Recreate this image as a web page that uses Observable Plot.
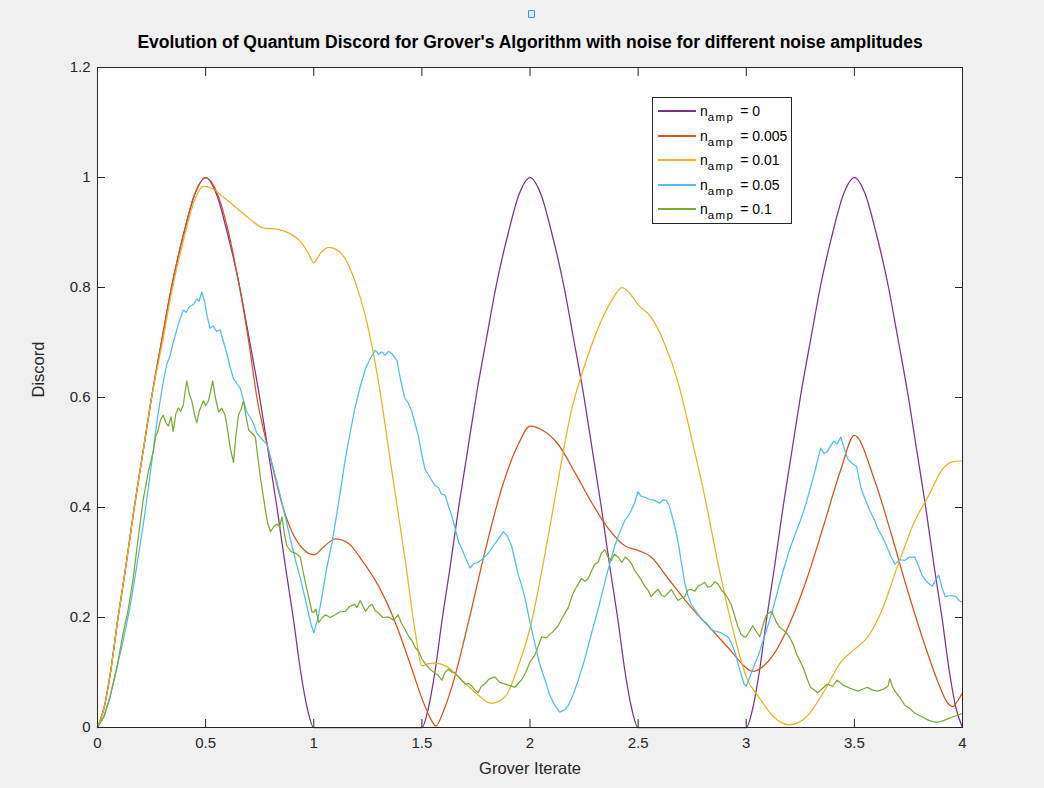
<!DOCTYPE html>
<html>
<head>
<meta charset="utf-8">
<script src="https://cdn.jsdelivr.net/npm/d3@7"></script>
<script src="https://cdn.jsdelivr.net/npm/@observablehq/plot@0.6"></script>
<style>
  html, body { margin: 0; padding: 0; background: #f0f0f0; }
  #wrap { position: relative; width: 1044px; height: 788px; overflow: hidden; font-family: "Liberation Sans", Arial, Helvetica, sans-serif; }
  #chart { position: absolute; left: 0; top: 0; }
  #legend { position: absolute; left: 652px; top: 97px; width: 140px; height: 127px; background: #fff; border: 1px solid #262626; box-sizing: border-box; }
  .row { position: absolute; left: 0; height: 20px; display: flex; align-items: center; }
  .swatch { width: 38px; height: 2px; margin-left: 5px; margin-right: 4px; }
  .lbl { font-size: 14px; color: #000; white-space: nowrap; }
  .lbl sub { font-size: 11.5px; letter-spacing: 1.4px; vertical-align: -5px; line-height: 0; margin-right: 2px; }
  #marker { position: absolute; left: 528px; top: 10px; width: 5px; height: 6px; border: 1px solid #3d8fe0; background: #dcecfb; border-radius: 1px; }
</style>
</head>
<body>
<div id="wrap"><div id="chart"></div><div id="legend"></div><div id="marker"></div></div>
<script>
const titleText = "Evolution of Quantum Discord for Grover's Algorithm with noise for different noise amplitudes";
const xLabel = "Grover Iterate";
const yLabel = "Discord";
const xTicks = [0, 0.5, 1, 1.5, 2, 2.5, 3, 3.5, 4];
const xTickLabels = ["0", "0.5", "1", "1.5", "2", "2.5", "3", "3.5", "4"];
const yTicks = [0, 0.2, 0.4, 0.6, 0.8, 1, 1.2];
const yTickLabels = ["0", "0.2", "0.4", "0.6", "0.8", "1", "1.2"];
const seriesLabels = ["0", "0.005", "0.01", "0.05", "0.1"];
const seriesColors = ["#7E2F8E", "#D95319", "#EDB120", "#4DBEEE", "#77AC30"];

// n_amp = 0
const namp0 = [[0,0],[0.03,0.035],[0.06,0.1],[0.095,0.2],[0.13,0.29],[0.17,0.4],[0.21,0.5],[0.25,0.6],[0.3,0.71],[0.342,0.8],[0.4,0.9],[0.45,0.97],[0.5,1.0],[0.55,0.97],[0.6,0.9],[0.658,0.8],[0.7,0.71],[0.75,0.6],[0.79,0.5],[0.83,0.4],[0.87,0.29],[0.905,0.2],[0.94,0.1],[0.97,0.035],[1.0,0],
  [1.5,0],[1.53,0.035],[1.56,0.1],[1.595,0.2],[1.63,0.29],[1.67,0.4],[1.71,0.5],[1.75,0.6],[1.8,0.71],[1.842,0.8],[1.9,0.9],[1.95,0.97],[2.0,1.0],[2.05,0.97],[2.1,0.9],[2.158,0.8],[2.2,0.71],[2.25,0.6],[2.29,0.5],[2.33,0.4],[2.37,0.29],[2.405,0.2],[2.44,0.1],[2.47,0.035],[2.5,0],
  [3.0,0],[3.03,0.035],[3.06,0.1],[3.095,0.2],[3.13,0.29],[3.17,0.4],[3.21,0.5],[3.25,0.6],[3.3,0.71],[3.342,0.8],[3.4,0.9],[3.45,0.97],[3.5,1.0],[3.55,0.97],[3.6,0.9],[3.658,0.8],[3.7,0.71],[3.75,0.6],[3.79,0.5],[3.83,0.4],[3.87,0.29],[3.905,0.2],[3.94,0.1],[3.97,0.035],[4.0,0]];

// n_amp = 0.005
const namp005 = [[0,0],[0.03,0.035],[0.06,0.1],[0.095,0.2],[0.13,0.29],[0.17,0.4],[0.21,0.5],[0.25,0.6],[0.3,0.71],[0.342,0.8],[0.4,0.9],[0.45,0.97],[0.5,1.0],[0.55,0.975],[0.6,0.91],[0.657,0.8],[0.7,0.7],[0.737,0.6],[0.8,0.49],[0.858,0.4],[0.9,0.355],[0.95,0.325],[1.0,0.314],[1.05,0.33],[1.1,0.343],[1.16,0.335],[1.223,0.304],[1.3,0.257],[1.377,0.191],[1.454,0.106],[1.5,0.053],[1.535,0.02],[1.565,0.003],[1.6,0.03],[1.638,0.073],[1.715,0.191],[1.79,0.317],[1.87,0.436],[1.946,0.515],[2.0,0.548],[2.06,0.54],[2.13,0.515],[2.21,0.462],[2.285,0.409],[2.36,0.363],[2.44,0.33],[2.5,0.322],[2.56,0.31],[2.64,0.27],[2.746,0.218],[2.84,0.178],[2.93,0.139],[2.99,0.112],[3.03,0.102],[3.08,0.112],[3.125,0.132],[3.203,0.191],[3.28,0.27],[3.36,0.37],[3.4375,0.469],[3.5,0.531],[3.594,0.449],[3.672,0.35],[3.75,0.244],[3.83,0.145],[3.89,0.079],[3.93,0.045],[3.955,0.038],[3.98,0.05],[4.0,0.063]];

// n_amp = 0.01
const namp01 = [[0,0],[0.03,0.035],[0.06,0.1],[0.095,0.2],[0.13,0.29],[0.17,0.4],[0.21,0.5],[0.25,0.6],[0.3,0.7],[0.342,0.79],[0.4,0.89],[0.45,0.96],[0.49,0.984],[0.53,0.98],[0.583,0.964],[0.645,0.944],[0.706,0.924],[0.768,0.908],[0.83,0.906],[0.89,0.898],[0.938,0.884],[0.977,0.861],[1.0,0.845],[1.03,0.862],[1.07,0.873],[1.11,0.868],[1.146,0.852],[1.19,0.812],[1.24,0.746],[1.3,0.627],[1.36,0.469],[1.423,0.304],[1.47,0.172],[1.5,0.112],[1.53,0.116],[1.56,0.117],[1.61,0.112],[1.685,0.086],[1.76,0.059],[1.82,0.044],[1.885,0.056],[1.946,0.112],[2.0,0.18],[2.07,0.317],[2.13,0.449],[2.19,0.574],[2.254,0.66],[2.315,0.726],[2.377,0.776],[2.426,0.8],[2.46,0.79],[2.5,0.769],[2.56,0.746],[2.62,0.7],[2.685,0.627],[2.746,0.528],[2.81,0.416],[2.87,0.297],[2.93,0.191],[2.97,0.13],[3.0,0.092],[3.0625,0.053],[3.125,0.02],[3.2,0.005],[3.28,0.02],[3.36,0.066],[3.4375,0.119],[3.5,0.142],[3.5625,0.165],[3.625,0.211],[3.703,0.297],[3.78,0.376],[3.844,0.422],[3.906,0.469],[3.953,0.483],[4.0,0.485]];

// n_amp = 0.05
const namp05 = [[0,0],[0.03,0.02],[0.06,0.06],[0.088,0.106],[0.12,0.16],[0.15,0.218],[0.18,0.29],[0.212,0.37],[0.24,0.45],[0.274,0.554],[0.3,0.62],[0.32,0.66],[0.335,0.675],[0.35,0.7],[0.375,0.735],[0.397,0.759],[0.41,0.755],[0.425,0.765],[0.444,0.769],[0.459,0.779],[0.47,0.775],[0.482,0.792],[0.495,0.775],[0.505,0.752],[0.52,0.726],[0.535,0.73],[0.55,0.72],[0.567,0.723],[0.58,0.705],[0.598,0.68],[0.61,0.66],[0.629,0.634],[0.645,0.625],[0.66,0.617],[0.675,0.595],[0.69,0.574],[0.705,0.565],[0.72,0.554],[0.737,0.535],[0.753,0.528],[0.77,0.52],[0.784,0.515],[0.8,0.49],[0.815,0.469],[0.83,0.445],[0.845,0.422],[0.87,0.38],[0.892,0.343],[0.915,0.305],[0.938,0.271],[0.96,0.235],[0.985,0.191],[1.0,0.172],[1.02,0.2],[1.038,0.238],[1.06,0.29],[1.085,0.337],[1.115,0.409],[1.146,0.488],[1.17,0.54],[1.19,0.58],[1.215,0.62],[1.24,0.653],[1.26,0.67],[1.285,0.686],[1.3,0.678],[1.315,0.683],[1.33,0.677],[1.345,0.684],[1.36,0.68],[1.385,0.667],[1.4,0.635],[1.42,0.6],[1.437,0.59],[1.454,0.574],[1.47,0.55],[1.485,0.528],[1.5,0.495],[1.515,0.469],[1.53,0.46],[1.546,0.449],[1.56,0.44],[1.577,0.436],[1.59,0.425],[1.608,0.422],[1.625,0.4],[1.64,0.383],[1.655,0.36],[1.67,0.337],[1.685,0.325],[1.7,0.31],[1.723,0.29],[1.74,0.298],[1.76,0.3],[1.785,0.308],[1.808,0.317],[1.83,0.33],[1.854,0.343],[1.877,0.356],[1.895,0.348],[1.915,0.33],[1.93,0.305],[1.946,0.277],[1.96,0.26],[1.977,0.235],[2.0,0.191],[2.023,0.152],[2.045,0.115],[2.07,0.086],[2.09,0.06],[2.115,0.04],[2.138,0.028],[2.16,0.032],[2.177,0.04],[2.2,0.06],[2.223,0.086],[2.25,0.12],[2.285,0.172],[2.315,0.215],[2.346,0.264],[2.37,0.3],[2.392,0.33],[2.415,0.355],[2.438,0.376],[2.455,0.385],[2.47,0.396],[2.485,0.41],[2.5,0.429],[2.515,0.42],[2.53,0.419],[2.55,0.415],[2.577,0.413],[2.6,0.408],[2.615,0.414],[2.63,0.413],[2.642,0.405],[2.654,0.389],[2.67,0.365],[2.685,0.337],[2.7,0.3],[2.715,0.264],[2.73,0.24],[2.746,0.224],[2.77,0.21],[2.79,0.198],[2.815,0.19],[2.838,0.178],[2.86,0.175],[2.885,0.172],[2.9,0.168],[2.915,0.165],[2.93,0.155],[2.946,0.139],[2.97,0.105],[2.99,0.079],[3.0,0.075],[3.015,0.09],[3.03,0.106],[3.055,0.13],[3.078,0.158],[3.1,0.185],[3.125,0.218],[3.15,0.255],[3.17,0.284],[3.2,0.323],[3.225,0.35],[3.25,0.376],[3.275,0.405],[3.297,0.436],[3.32,0.47],[3.344,0.508],[3.36,0.498],[3.375,0.502],[3.39,0.512],[3.406,0.521],[3.42,0.515],[3.4375,0.528],[3.455,0.505],[3.47,0.488],[3.49,0.48],[3.51,0.475],[3.53,0.436],[3.55,0.415],[3.57,0.396],[3.594,0.376],[3.61,0.36],[3.625,0.35],[3.64,0.338],[3.656,0.323],[3.67,0.31],[3.6875,0.297],[3.71,0.305],[3.734,0.304],[3.755,0.31],[3.78,0.31],[3.795,0.295],[3.8125,0.277],[3.835,0.265],[3.86,0.257],[3.875,0.268],[3.89,0.277],[3.905,0.255],[3.92,0.238],[3.945,0.24],[3.97,0.238],[3.985,0.23],[4.0,0.228]];

// n_amp = 0.1
const namp1 = [[0,0],[0.03,0.02],[0.057,0.053],[0.09,0.11],[0.119,0.172],[0.14,0.21],[0.165,0.271],[0.19,0.35],[0.212,0.416],[0.235,0.465],[0.258,0.502],[0.27,0.53],[0.281,0.541],[0.292,0.56],[0.304,0.568],[0.315,0.555],[0.328,0.548],[0.34,0.565],[0.35,0.538],[0.362,0.57],[0.374,0.581],[0.385,0.575],[0.397,0.587],[0.405,0.61],[0.413,0.63],[0.425,0.605],[0.436,0.594],[0.448,0.57],[0.459,0.554],[0.47,0.575],[0.49,0.594],[0.5,0.585],[0.513,0.594],[0.522,0.61],[0.533,0.63],[0.545,0.6],[0.56,0.574],[0.575,0.58],[0.59,0.568],[0.6,0.545],[0.614,0.508],[0.629,0.482],[0.64,0.53],[0.652,0.568],[0.665,0.58],[0.675,0.594],[0.687,0.565],[0.699,0.541],[0.715,0.535],[0.73,0.528],[0.742,0.49],[0.753,0.455],[0.765,0.425],[0.776,0.396],[0.788,0.37],[0.8,0.356],[0.815,0.365],[0.83,0.37],[0.842,0.365],[0.853,0.383],[0.865,0.35],[0.876,0.33],[0.895,0.32],[0.915,0.317],[0.938,0.31],[0.95,0.285],[0.961,0.264],[0.975,0.24],[0.992,0.21],[1.0,0.21],[1.01,0.215],[1.023,0.191],[1.04,0.2],[1.054,0.205],[1.075,0.2],[1.1,0.205],[1.12,0.21],[1.146,0.211],[1.165,0.22],[1.19,0.224],[1.2,0.218],[1.215,0.231],[1.228,0.22],[1.24,0.211],[1.255,0.22],[1.27,0.224],[1.285,0.212],[1.3,0.208],[1.32,0.2],[1.346,0.201],[1.37,0.195],[1.39,0.205],[1.405,0.19],[1.423,0.178],[1.44,0.165],[1.454,0.158],[1.47,0.145],[1.485,0.139],[1.5,0.125],[1.515,0.116],[1.54,0.105],[1.56,0.099],[1.575,0.095],[1.592,0.086],[1.607,0.1],[1.623,0.106],[1.64,0.1],[1.654,0.099],[1.675,0.09],[1.7,0.079],[1.715,0.08],[1.73,0.076],[1.745,0.068],[1.76,0.063],[1.775,0.075],[1.79,0.079],[1.81,0.088],[1.838,0.092],[1.86,0.082],[1.885,0.079],[1.91,0.076],[1.93,0.073],[1.945,0.08],[1.96,0.086],[1.98,0.1],[2.0,0.119],[2.023,0.132],[2.04,0.15],[2.054,0.165],[2.075,0.163],[2.1,0.172],[2.115,0.178],[2.13,0.185],[2.15,0.2],[2.177,0.218],[2.195,0.24],[2.208,0.251],[2.225,0.262],[2.238,0.271],[2.255,0.266],[2.27,0.271],[2.285,0.285],[2.3,0.297],[2.315,0.3],[2.33,0.317],[2.346,0.323],[2.36,0.31],[2.377,0.304],[2.39,0.315],[2.408,0.31],[2.425,0.3],[2.44,0.31],[2.455,0.305],[2.47,0.297],[2.485,0.285],[2.5,0.277],[2.515,0.268],[2.53,0.257],[2.545,0.25],[2.56,0.238],[2.575,0.245],[2.592,0.251],[2.61,0.24],[2.623,0.238],[2.64,0.245],[2.654,0.251],[2.67,0.24],[2.685,0.231],[2.7,0.235],[2.715,0.238],[2.73,0.25],[2.746,0.251],[2.762,0.248],[2.777,0.257],[2.792,0.26],[2.808,0.264],[2.822,0.255],[2.838,0.257],[2.855,0.265],[2.87,0.261],[2.885,0.25],[2.9,0.244],[2.915,0.235],[2.93,0.224],[2.945,0.205],[2.96,0.185],[2.975,0.17],[2.99,0.165],[3.0,0.165],[3.015,0.175],[3.03,0.185],[3.045,0.175],[3.0625,0.165],[3.08,0.19],[3.094,0.205],[3.105,0.208],[3.117,0.211],[3.13,0.2],[3.14,0.191],[3.155,0.182],[3.17,0.178],[3.185,0.172],[3.2,0.165],[3.218,0.15],[3.234,0.132],[3.25,0.12],[3.266,0.106],[3.28,0.09],[3.297,0.073],[3.315,0.068],[3.33,0.063],[3.35,0.07],[3.375,0.079],[3.4,0.075],[3.42,0.086],[3.445,0.078],[3.47,0.073],[3.49,0.07],[3.516,0.066],[3.54,0.07],[3.56,0.073],[3.585,0.068],[3.61,0.066],[3.635,0.07],[3.655,0.075],[3.664,0.089],[3.675,0.075],[3.6875,0.066],[3.71,0.055],[3.734,0.04],[3.755,0.035],[3.78,0.026],[3.81,0.02],[3.844,0.013],[3.87,0.01],[3.89,0.01],[3.915,0.013],[3.94,0.017],[3.96,0.02],[3.984,0.023],[4.0,0.026]];

const seriesData = [namp0, namp005, namp01, namp05, namp1];
const smooth = [true, true, true, false, false];

const rowsFor = (i) => seriesData[i].map(([x, y]) => ({x, y, s: seriesLabels[i]}));

const lineMarks = seriesData.map((_, i) =>
  Plot.line(rowsFor(i), {x: "x", y: "y", stroke: "s", strokeWidth: 1.25, curve: smooth[i] ? "monotone-x" : "linear"})
);

const xFmt = (d) => xTickLabels[xTicks.indexOf(d)];
const yFmt = (d) => yTickLabels[yTicks.indexOf(d)];

const chart = Plot.plot({
  width: 1044,
  height: 788,
  marginLeft: 97,
  marginRight: 82,
  marginTop: 67,
  marginBottom: 61,
  style: {background: "transparent", color: "#262626", fontFamily: "'Liberation Sans', Arial, Helvetica, sans-serif", fontSize: "15px"},
  x: {domain: [0, 4]},
  y: {domain: [0, 1.2]},
  color: {domain: seriesLabels, range: seriesColors},
  marks: [
    Plot.frame({fill: "white"}),
    ...lineMarks,
    Plot.frame({stroke: "#262626", strokeWidth: 1}),
    Plot.axisX({ticks: xTicks, tickFormat: xFmt, tickSize: -8, tickPadding: 18, label: null, fontSize: 15}),
    Plot.axisX({anchor: "top", ticks: xTicks, tickFormat: () => "", tickSize: -8, label: null}),
    Plot.axisY({ticks: yTicks, tickFormat: yFmt, tickSize: -8, tickPadding: 15, label: null, fontSize: 15}),
    Plot.axisY({anchor: "right", ticks: yTicks, tickFormat: () => "", tickSize: -8, label: null}),
    Plot.text([xLabel], {text: (d) => d, frameAnchor: "bottom", dy: 46, fontSize: 16.5, fill: "#262626"}),
    Plot.text([yLabel], {text: (d) => d, frameAnchor: "left", dx: -59, rotate: -90, fontSize: 16.5, fill: "#262626"}),
    Plot.text([titleText], {text: (d) => d, frameAnchor: "top", dy: -32, fontSize: 17.5, fontWeight: "bold", fill: "#000"})
  ]
});
document.getElementById("chart").appendChild(chart);

// legend
const legend = document.getElementById("legend");
seriesLabels.forEach((lab, i) => {
  const row = document.createElement("div");
  row.className = "row";
  row.style.top = (3 + i * 24.5) + "px";
  const sw = document.createElement("div");
  sw.className = "swatch";
  sw.style.background = seriesColors[i];
  const t = document.createElement("span");
  t.className = "lbl";
  t.innerHTML = "n<sub>amp</sub> = " + lab;
  row.appendChild(sw);
  row.appendChild(t);
  legend.appendChild(row);
});
</script>
</body>
</html>
